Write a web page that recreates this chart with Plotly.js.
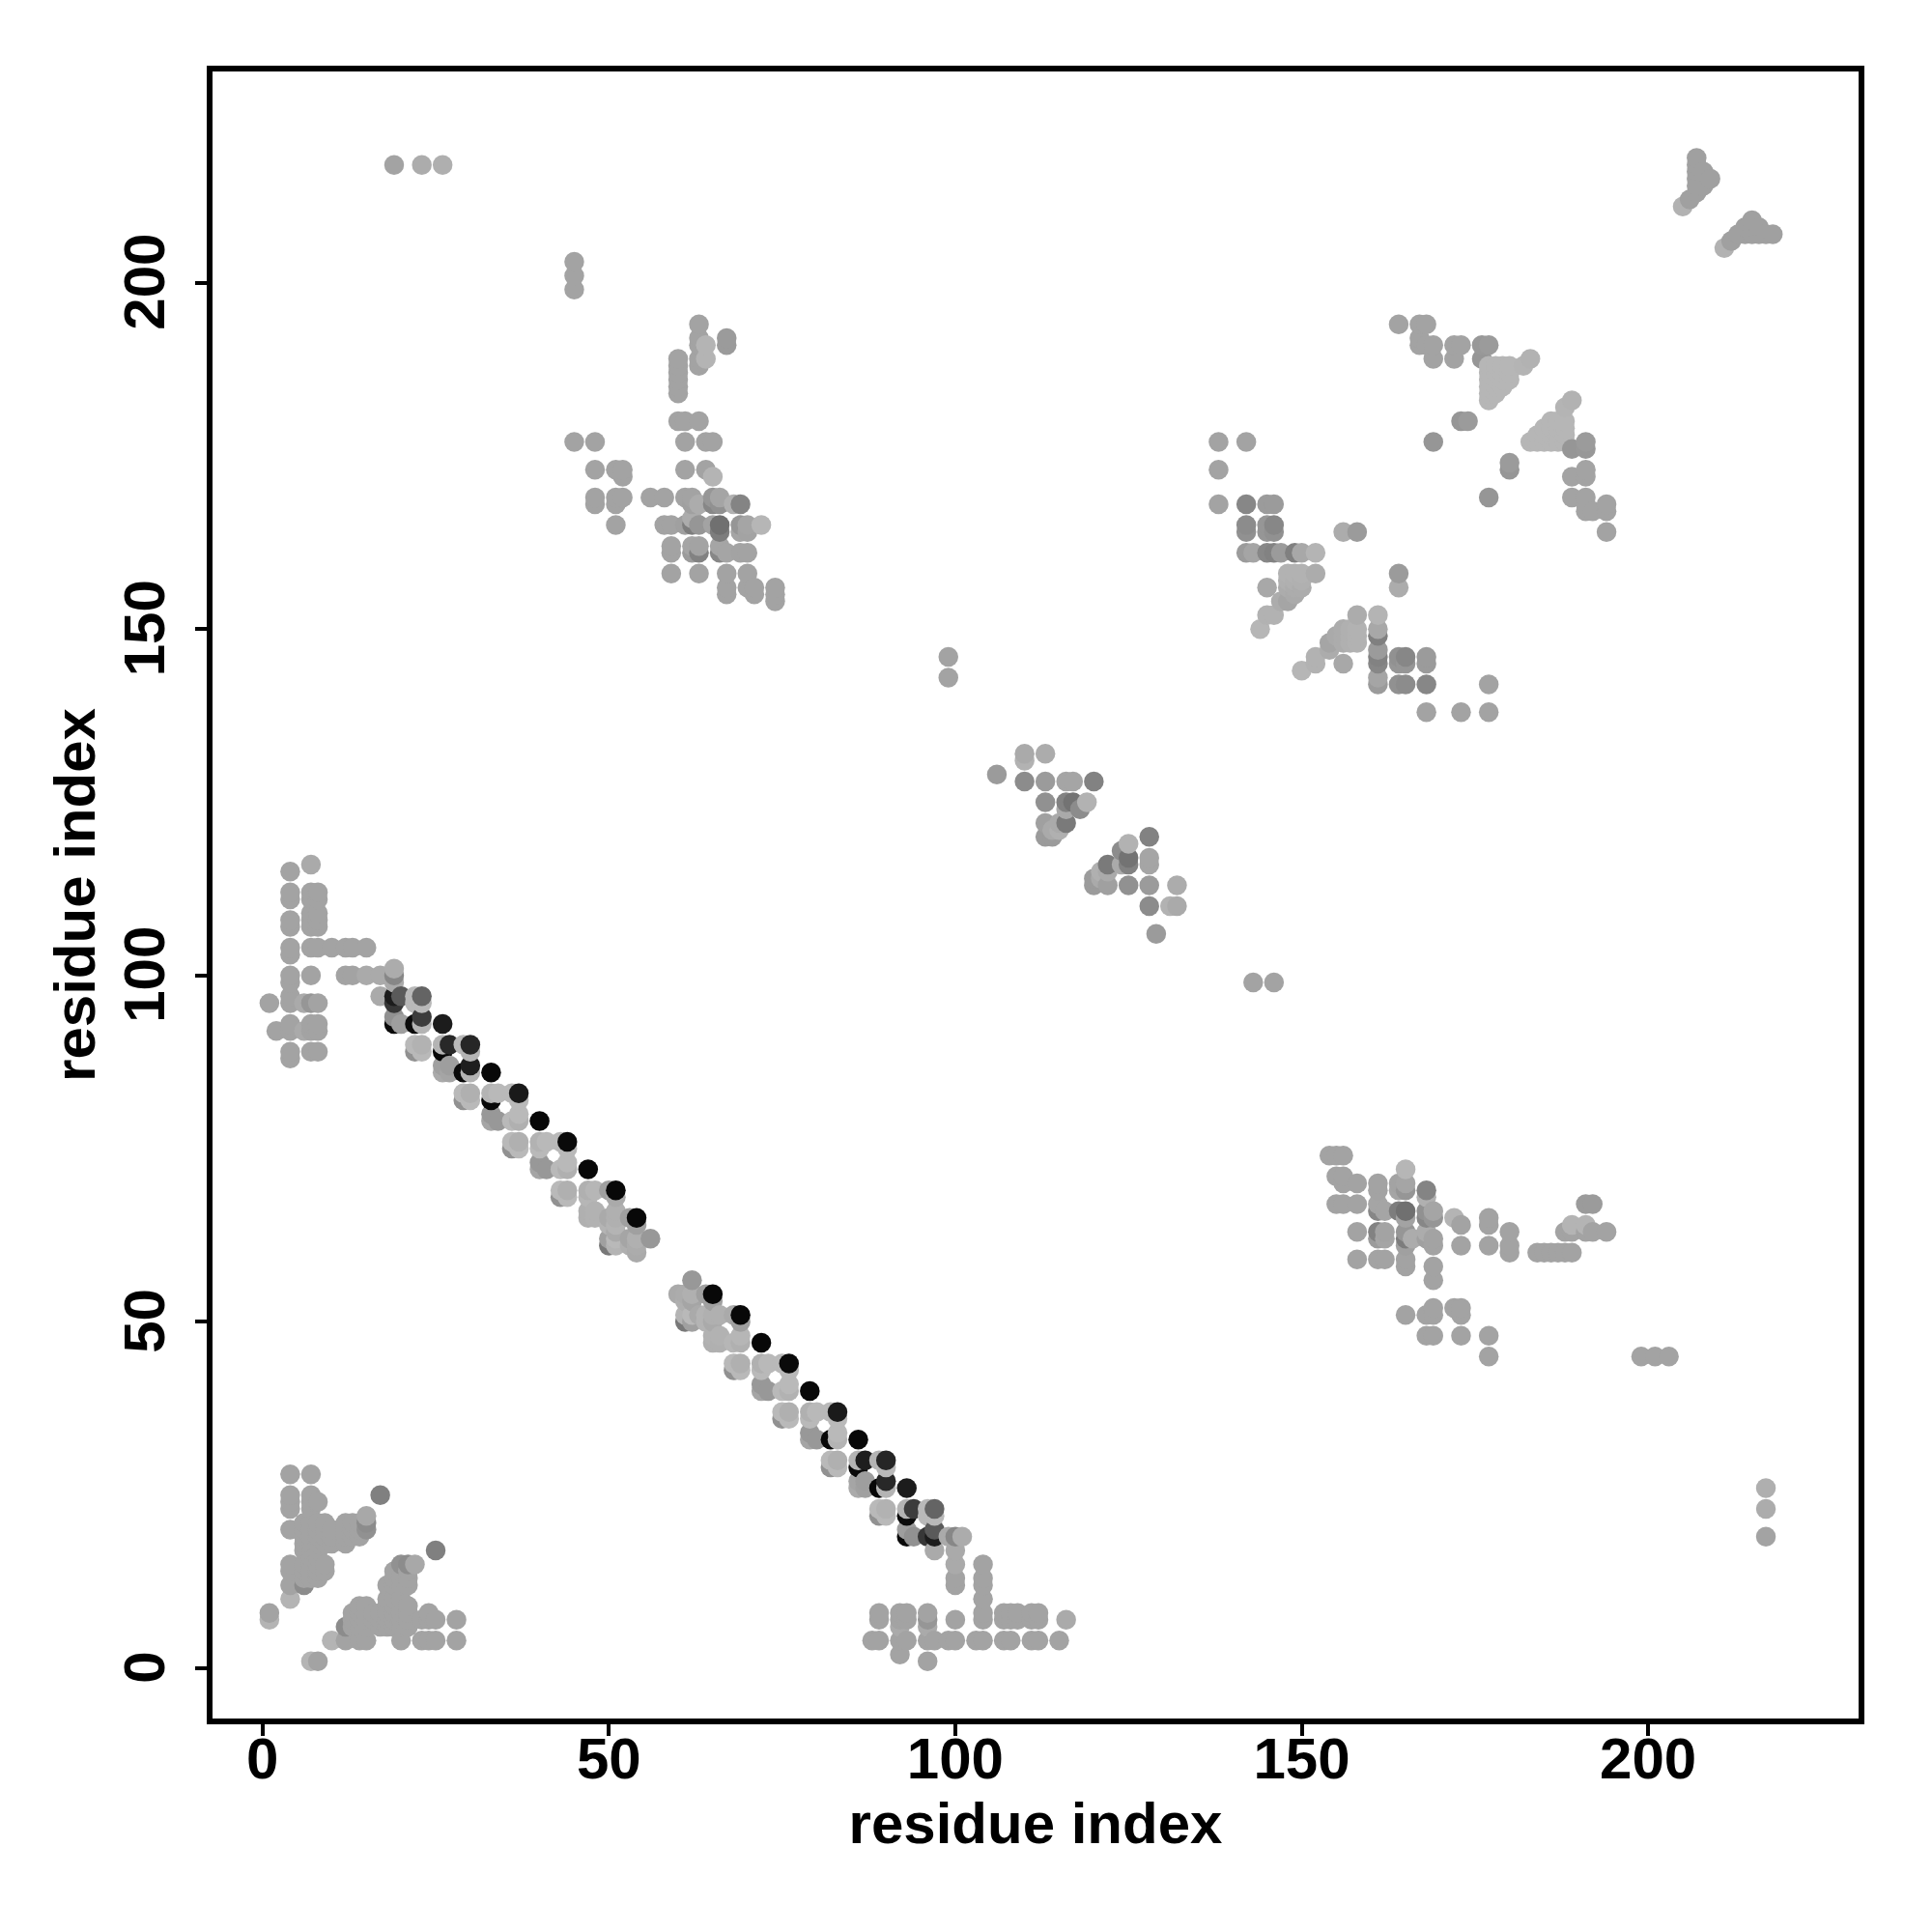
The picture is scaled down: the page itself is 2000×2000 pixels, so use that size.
<!DOCTYPE html>
<html><head><meta charset="utf-8">
<script src="https://cdn.plot.ly/plotly-3.0.1.min.js"></script>
<style>html,body{margin:0;padding:0;background:#fff}</style></head>
<body><div id="chart" style="width:2000px;height:2000px"></div>
<script>
// contacts as [i, j, grey level] with i<j; the map is symmetric. A missing grey level means the usual 163.
const terminiContacts = [
[1,7,180],[1,8],[4,10,180],[4,12],[4,14],[4,15],[4,20],[4,23],[4,24],[4,25],[4,28],
[6,12,140],[6,13],[6,14],[6,15],[6,17],[6,18],[6,19],[6,20],[6,21],
[7,13],[7,14],[7,15],[7,16],[7,17],[7,18],[7,19],[7,20],[7,21],[7,23],[7,24],[7,25],[7,28],
[8,13],[8,14],[8,15],[8,16],[8,17],[8,18],[8,19],[8,20],[8,21],[8,24],
[9,14],[9,15],[9,18],[9,19],[9,20],[9,21],[10,18],[10,19],[10,20],
[12,18],[12,19],[12,20],[12,21],[13,19],[13,20],[13,21],[14,19],[14,20],[14,21],
[15,20,145],[15,21,140],[15,22,168],[17,25,128]];
const sheetContacts = [
[15,100,170],[17,100,170],[17,97,170],[19,93,10],[19,94,145],[19,96,55],[19,97,28],[19,99,170],[19,100,135],[19,101,172],
[20,93,158],[20,97,90],[22,93,12],[22,96,185],[22,97,185],[23,93,180],[23,94,60],[23,96,185],[23,97,100],[26,93,28],
[22,89,145],[22,90,185],[23,89,185],[23,90,178],[26,86,170],[26,87,160],[26,89,8],[26,90,180],[27,86,165],[27,87,158],[27,90,40],
[29,82,145],[29,83,185],[29,86,10],[29,90,185],[30,82,185],[30,83,176],[30,86,180],[30,87,30],[30,89,180],[30,90,38],
[33,79,165],[33,80,152],[33,82,8],[33,83,180],[33,86,8],[34,79,152],[34,83,185],
[36,75,145],[36,76,185],[36,79,185],[36,83,185],[37,75,185],[37,76,176],[37,79,176],[37,80,185],[37,82,185],[37,83,26],
[40,72,165],[40,73,152],[40,75,185],[40,76,178],[40,79,8],[41,72,152],[41,76,185],
[43,68,145],[43,69,185],[43,72,185],[43,76,185],[44,68,185],[44,69,176],[44,72,176],[44,73,185],[44,75,185],[44,76,10],
[47,65,176],[47,66,176],[47,68,182],[47,69,176],[47,72,8],[48,65,178],[48,66,178],[48,69,182],
[50,61,120],[50,62,160],[50,64,180],[50,65,170],[50,69,160],[51,61,180],[51,62,185],[51,63,170],[51,64,180],[51,65,176],[51,66,176],[51,68,170],[51,69,8],
[53,61,175],[53,62,165],[53,65,160],[54,60,170],[54,61,172],[54,62,176],[54,64,160],[54,65,8],[56,62,152]];
const lowerRightContacts = [
[1,96],[2,92],[4,88],[4,89],[4,92],[4,93],[4,96],[4,97],[4,99],[4,100],[4,103],[4,104],[4,107],[4,108],[4,111],[4,112],[4,115],
[6,92,170],[6,96,170],[7,89],[7,92],[7,93],[7,96,150],[7,100],[7,104],[7,107],[7,108],[7,109],[7,111],[7,112],[7,116,170],
[8,89],[8,92],[8,93],[8,96],[8,104],[8,107],[8,108],[8,109],[8,111],[8,112],
[10,104],[12,100],[12,104],[13,100],[13,104],[15,104]];
const crossContacts = [
[45,177],[45,199],[45,201],[45,203],[48,168],[48,169],[48,173],[48,177],[51,165],[51,168],[51,169],[51,173],[52,169],[52,172],[52,173],
[56,169],[58,165],[58,169],[59,158],[59,161],[59,162],[59,165],
[60,180],[60,184],[60,185],[60,186],[60,187],[60,188],[60,189],
[61,165,160],[61,169],[61,173],[61,177],[61,180],
[62,161,155],[62,162,165],[62,165,125],[62,166,172],[62,168,160],[62,169],
[63,158],[63,161,130],[63,162],[63,165,150],[63,168,172],[63,180],[63,188],[63,189],[63,191],[63,192],[63,194],
[64,173],[64,177],[64,189,180],[64,191,180],
[65,165],[65,168,135],[65,169,150],[65,172,180],[65,177],
[66,161,135],[66,162,165],[66,164,125],[66,165,112],[66,168,145],[66,169,165],
[67,155],[67,156],[67,158],[67,161,165],[67,191,155],[67,192,155],
[68,168,176],[69,161],[69,164,165],[69,165,150],[69,168,132],[70,156],[70,158],[70,161],[70,164],[70,165,165],
[71,155],[71,156],[72,165,182],[74,154],[74,155],[74,156]];
const helixContacts = [
[99,143],[99,146],[106,129,155],[110,128,140],[110,131,178],[110,132,170],[113,120,155],[113,122,160],[113,125,145],[113,128,155],[113,132,172],
[114,120,155],[114,121,170],[115,121,176],[115,122,170],[116,122,122],[116,124,170],[116,125,130],[116,128,165],[117,125,115],[117,128,165],[118,124,140],[119,125,178],[120,128,130],
[19,217],[23,217,172],[26,217,175]];
const upperRightContacts = [
[138,168],[138,173],[138,177],[142,161,155],[142,164,145],[142,165,140],[142,168,135],[142,177],[143,161,165],
[144,150,182],[145,152,178],[145,156,168],[145,161,135],[145,164,150],[145,165,150],[145,168,155],[146,152,178],[146,161,130],[146,164,145],[146,165,135],[146,168,155],
[147,154,172],[147,161,155],[148,154,165],[148,156,172],[148,157,176],[148,158,178],[149,155,170],[149,156,172],[149,157,176],[149,158,178],[149,161,128],
[150,156,172],[150,157,176],[150,158,178],[150,161,168],[152,158,172],[152,161,180],[156,164,172],[158,164,155],
[164,194],[167,191],[167,192],[167,194],[168,191],[168,194],[169,177,150],[169,189],[169,191],[172,189],[172,191],[173,191],[173,180,150],[174,180,155],[176,189,150],[176,191,152],[177,191,155],
[177,183,182],[177,184,182],[177,185,182],[177,186,182],[177,187,182],[177,188,182],[178,184,182],[178,185,182],[178,186,182],[178,187,182],[178,188,182],
[179,185,182],[179,186,182],[179,187,182],[179,188,182],[180,186,182],[180,187,182],[180,188,182],[182,188,180],[183,189,178],
[205,211,178],[206,212,160],[207,213,160],[207,214,160],[207,215,160],[207,216,160],[207,217,160],[207,218,160],[208,214,160],[208,216,160],[209,215,160]];
const farContacts = [[142,164,145],[164,142,145],[165,142,140],[164,145,160],[165,145,140],[164,146,160],[165,146,130],[142,168,135],[145,168,160],[146,168,160],[138,168],[138,173],[142,177],[138,177],[138,173]];
const tickValues = [0,50,100,150,200];
const axisLabel = "residue index";

const upper = [].concat(terminiContacts, sheetContacts, lowerRightContacts, crossContacts, helixContacts, upperRightContacts, farContacts);
const seen = {};
const pts = [];
upper.forEach(p => {
  [[p[0],p[1]],[p[1],p[0]]].forEach(q => {
    const k = q[0]+','+q[1];
    if (seen[k]) return;
    seen[k] = 1;
    pts.push({x:q[0], y:q[1], g:(p[2]===undefined?163:p[2])});
  });
});
pts.sort((a,b) => a.x-b.x || a.y-b.y);

const labelFont = {family:'"Liberation Sans", Arial, sans-serif', size:60, color:'#000', weight:700};
const sharedAxis = {tickvals:tickValues, ticktext:tickValues.map(String), showgrid:false, zeroline:false,
  showline:true, mirror:true, linecolor:'#000', linewidth:6, ticks:'outside', ticklen:12, tickwidth:4, tickcolor:'#000',
  tickfont:labelFont, automargin:false};
Plotly.newPlot('chart', [{
  type:'scatter', mode:'markers',
  x:pts.map(p=>p.x), y:pts.map(p=>p.y),
  marker:{size:20.5, color:pts.map(p=>p.g), cmin:0, cmax:255, colorscale:[[0,'#000'],[1,'#fff']], showscale:false, line:{width:0}},
  hoverinfo:'x+y'
}], {
  width:2000, height:2000, showlegend:false,
  paper_bgcolor:'#fff', plot_bgcolor:'#fff',
  margin:{l:220, r:76, t:74, b:221, autoexpand:false},
  xaxis:Object.assign({}, sharedAxis, {range:[-7.21,230.38], ticklabelstandoff:-28, title:{text:axisLabel, font:labelFont, standoff:5}}),
  yaxis:Object.assign({}, sharedAxis, {range:[-7.25,230.48], tickangle:-90, ticklabelstandoff:8, ticklabelshift:8, title:{text:axisLabel, font:labelFont, standoff:0}})
}, {displayModeBar:false, staticPlot:true});
</script></body></html>
